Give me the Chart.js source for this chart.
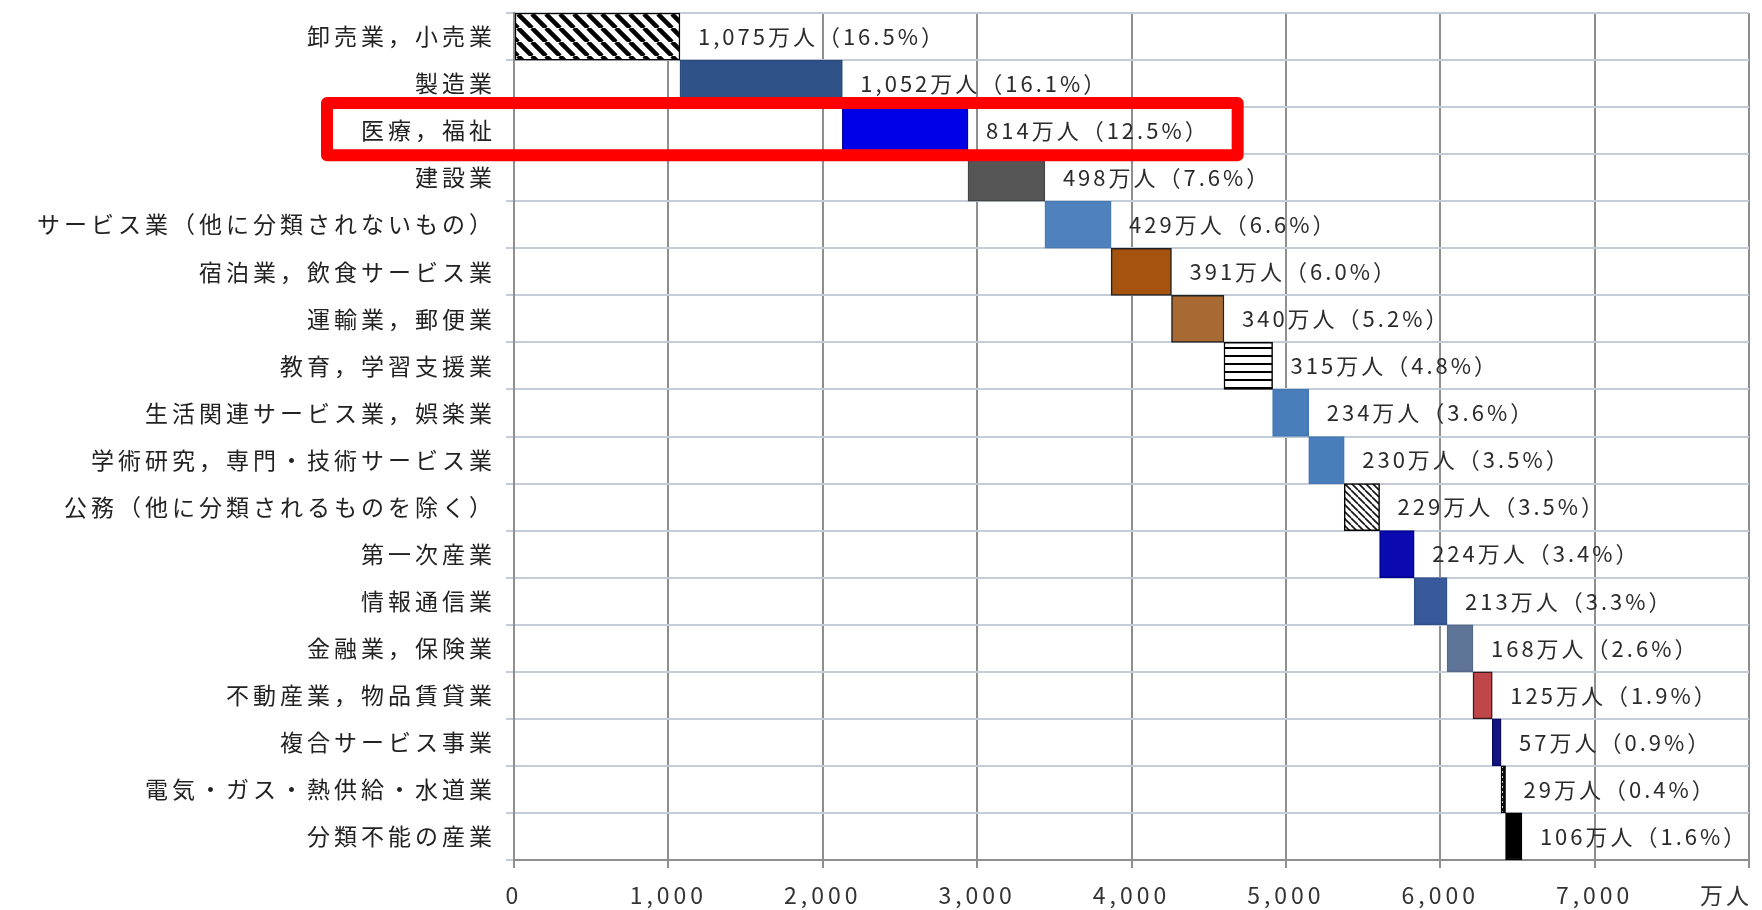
<!DOCTYPE html>
<html>
<head>
<meta charset="utf-8">
<script src="https://cdn.jsdelivr.net/npm/chart.js@4.4.1/dist/chart.umd.min.js"></script>
<style>
html, body { margin: 0; padding: 0; background: #fff; }
#wrap { width: 1762px; height: 910px; }
</style>
</head>
<body>
<div id="wrap"><canvas id="chart"></canvas></div>
<script>
var categories = [
    '卸売業，小売業',
    '製造業',
    '医療，福祉',
    '建設業',
    'サービス業（他に分類されないもの）',
    '宿泊業，飲食サービス業',
    '運輸業，郵便業',
    '教育，学習支援業',
    '生活関連サービス業，娯楽業',
    '学術研究，専門・技術サービス業',
    '公務（他に分類されるものを除く）',
    '第一次産業',
    '情報通信業',
    '金融業，保険業',
    '不動産業，物品賃貸業',
    '複合サービス事業',
    '電気・ガス・熱供給・水道業',
    '分類不能の産業'
];
// 就業者数（万人）
var workers = [1075, 1052, 814, 498, 429, 391, 340, 315, 234, 230, 229, 224, 213, 168, 125, 57, 29, 106];
// 構成比（%）
var shares = [16.5, 16.1, 12.5, 7.6, 6.6, 6.0, 5.2, 4.8, 3.6, 3.5, 3.5, 3.4, 3.3, 2.6, 1.9, 0.9, 0.4, 1.6];
var xTickValues = [0, 1000, 2000, 3000, 4000, 5000, 6000, 7000, 8000];
var unitLabel = '万人';
var highlightIndex = 2;

var FONT = "'Noto Sans CJK JP', 'Noto Sans', sans-serif";
var VALUE_FONT = '22px ' + FONT;

function makePattern(w, h, draw) {
    var c = document.createElement('canvas');
    c.width = w;
    c.height = h;
    var g = c.getContext('2d');
    draw(g, w, h);
    return g.createPattern(c, 'repeat');
}

// 太い斜線
var hatchThick = makePattern(14, 14, function (g, s) {
    g.fillStyle = '#fff';
    g.fillRect(0, 0, s, s);
    g.strokeStyle = '#000';
    g.lineWidth = 4.5;
    g.beginPath();
    [-s, 0, s].forEach(function (o) {
        g.moveTo(o, 0);
        g.lineTo(o + s, s);
    });
    g.stroke();
});
// 細い斜線
var hatchThin = makePattern(7, 7, function (g, s) {
    g.fillStyle = '#fff';
    g.fillRect(0, 0, s, s);
    g.strokeStyle = '#111';
    g.lineWidth = 1.6;
    g.beginPath();
    [-s, 0, s].forEach(function (o) {
        g.moveTo(o, 0);
        g.lineTo(o + s, s);
    });
    g.stroke();
});
// 横線
var hatchHoriz = makePattern(8, 8, function (g, w, h) {
    g.fillStyle = '#fff';
    g.fillRect(0, 0, w, h);
    g.fillStyle = '#000';
    g.fillRect(0, 3, w, 2);
});
// 点線
var dots = makePattern(4, 5, function (g, w, h) {
    g.fillStyle = '#111';
    g.fillRect(0, 0, w, h);
    g.fillStyle = '#fff';
    g.fillRect(1, 1, 2, 2);
});

var barColors = [
    hatchThick, '#2f5289', '#0000e6', '#555555', '#4f81bd', '#a5530f',
    '#a86a32', hatchHoriz, '#4a7ebb', '#4a7ebb', hatchThin, '#0a0ab0',
    '#38599a', '#5f7597', '#c0464a', '#14147e', dots, '#000000'
];
var barBorders = [
    '#000', '#2a4a7a', '#00009a', '#444', '#4a7ab4', '#222',
    '#222', '#000', '#4477b4', '#4477b4', '#000', '#00008a',
    '#30508c', '#55698a', '#3a1a1a', '#0a0a60', '#000', '#000'
];

// 積み上げ（滝グラフ）の開始・終了
var ranges = [];
var running = 0;
workers.forEach(function (v) {
    ranges.push([running, running + v]);
    running += v;
});

function valueText(i) {
    return workers[i].toLocaleString('en-US') + '万人（' + shares[i].toFixed(1) + '%）';
}

var valueLabels = {
    id: 'valueLabels',
    beforeDraw: function (chart) {
        // 元の図は横長の字形なので字間を広げる
        chart.ctx.letterSpacing = '4px';
    },
    afterDatasetsDraw: function (chart) {
        var ctx = chart.ctx;
        var meta = chart.getDatasetMeta(0);
        ctx.save();
        ctx.letterSpacing = '3px';
        ctx.font = VALUE_FONT;
        ctx.fillStyle = '#2b2b2b';
        ctx.textAlign = 'left';
        ctx.textBaseline = 'middle';
        meta.data.forEach(function (bar, i) {
            var end = Math.max(bar.x, bar.base);
            ctx.fillText(valueText(i), end + 18, bar.y);
        });
        ctx.restore();
    },
    afterDraw: function (chart) {
        var ctx = chart.ctx;
        var area = chart.chartArea;
        var xs = chart.scales.x;
        var ys = chart.scales.y;
        ctx.save();
        // 単位
        ctx.letterSpacing = '3px';
        ctx.font = '23px ' + FONT;
        ctx.fillStyle = '#333';
        ctx.textAlign = 'right';
        ctx.textBaseline = 'middle';
        ctx.fillText(unitLabel, area.right + 3, xs.top + 8 + 13 + 14);

        // 赤枠（医療，福祉）
        var band = (ys.bottom - ys.top) / categories.length;
        var cy = ys.getPixelForValue(highlightIndex);
        ctx.letterSpacing = '4px';
        ctx.font = '23px ' + FONT;
        var catW = ctx.measureText(categories[highlightIndex]).width;
        ctx.letterSpacing = '3px';
        ctx.font = VALUE_FONT;
        var valW = ctx.measureText(valueText(highlightIndex)).width;
        var bar = chart.getDatasetMeta(0).data[highlightIndex];
        var left = area.left - 22 - catW - 30;
        var right = Math.max(bar.x, bar.base) + 18 + valW + 28;
        ctx.strokeStyle = '#ff0000';
        ctx.lineWidth = 12;
        ctx.lineJoin = 'round';
        ctx.strokeRect(left, cy - band / 2 - 4, right - left, band + 5);
        ctx.restore();
    }
};

var config = {
    type: 'bar',
    data: {
        labels: categories,
        datasets: [{
            data: ranges,
            backgroundColor: barColors,
            borderColor: barBorders,
            borderWidth: 1.5,
            borderSkipped: false,
            categoryPercentage: 1.0,
            barPercentage: 1.0
        }]
    },
    options: {
        indexAxis: 'y',
        responsive: true,
        maintainAspectRatio: false,
        animation: false,
        layout: {
            padding: { top: 13, right: 7, bottom: 0, left: 0 }
        },
        plugins: {
            legend: { display: false },
            tooltip: { enabled: false }
        },
        scales: {
            x: {
                type: 'linear',
                min: 0,
                max: 8000,
                afterBuildTicks: function (scale) {
                    scale.ticks = xTickValues.map(function (v) { return { value: v }; });
                },
                afterFit: function (scale) {
                    scale.height = 50;
                },
                grid: {
                    color: '#8f8f8f',
                    lineWidth: 2,
                    tickLength: 8
                },
                border: { color: '#8f8f8f', width: 2 },
                ticks: {
                    autoSkip: false,
                    maxRotation: 0,
                    padding: 13,
                    color: '#333',
                    font: { family: FONT, size: 23 },
                    callback: function (v) {
                        return v === 8000 ? '' : v.toLocaleString('en-US');
                    }
                }
            },
            y: {
                afterFit: function (scale) {
                    scale.width = 514;
                    scale.paddingTop = 0;
                    scale.paddingBottom = 0;
                },
                grid: {
                    color: '#c4ccd8',
                    lineWidth: 2,
                    tickLength: 8
                },
                border: { color: '#8f8f8f', width: 2 },
                ticks: {
                    padding: 10,
                    color: '#222',
                    font: { family: FONT, size: 23 }
                }
            }
        }
    },
    plugins: [valueLabels]
};

window.onload = function () {
    var ctx = document.getElementById('chart').getContext('2d');
    window.myChart = new Chart(ctx, config);
};
</script>
</body>
</html>
